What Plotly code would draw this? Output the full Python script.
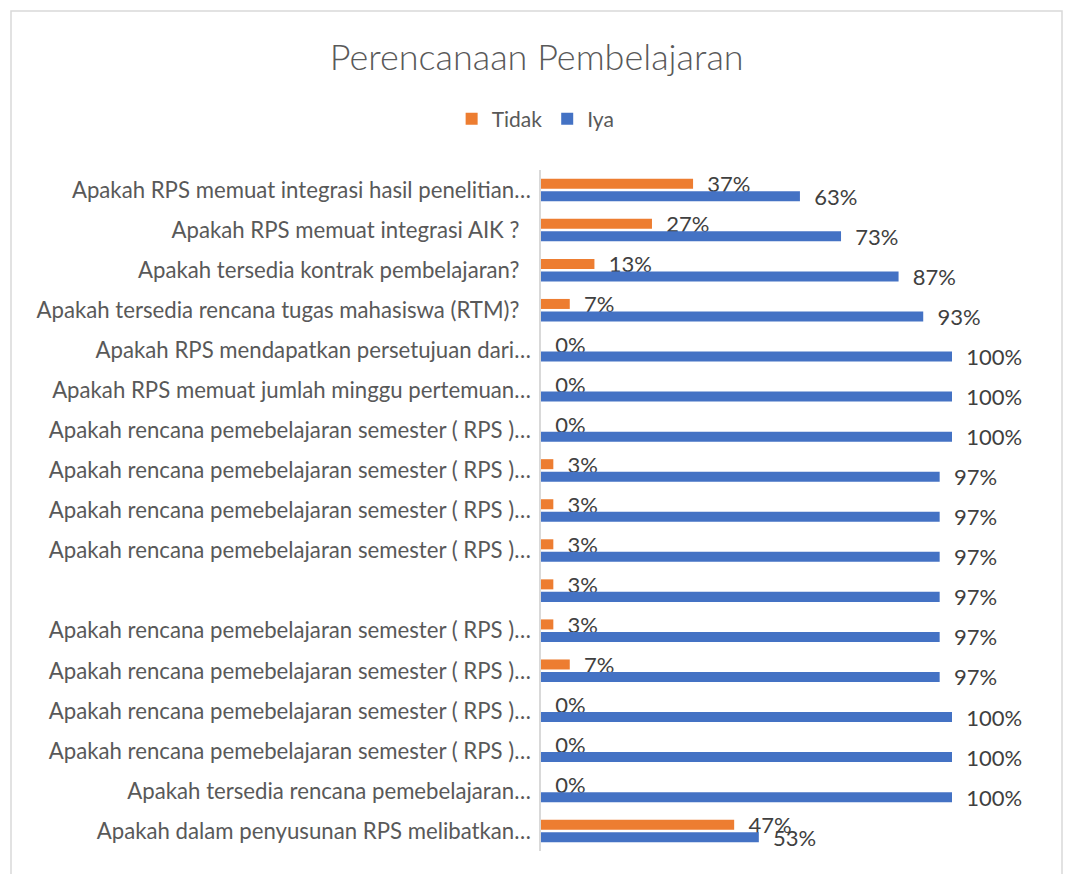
import plotly.graph_objects as go

# ---- data (top to bottom as shown) ----
categories = [
    "Apakah RPS memuat integrasi hasil penelitian…",
    "Apakah RPS memuat integrasi AIK ?\u00a0\u00a0",
    "Apakah tersedia kontrak pembelajaran?\u00a0\u00a0",
    "Apakah tersedia rencana tugas mahasiswa (RTM)?\u00a0\u00a0",
    "Apakah RPS mendapatkan persetujuan dari…",
    "Apakah RPS memuat jumlah minggu pertemuan…",
    "Apakah rencana pemebelajaran semester ( RPS )…",
    "Apakah rencana pemebelajaran semester ( RPS )…",
    "Apakah rencana pemebelajaran semester ( RPS )…",
    "Apakah rencana pemebelajaran semester ( RPS )…",
    "",
    "Apakah rencana pemebelajaran semester ( RPS )…",
    "Apakah rencana pemebelajaran semester ( RPS )…",
    "Apakah rencana pemebelajaran semester ( RPS )…",
    "Apakah rencana pemebelajaran semester ( RPS )…",
    "Apakah tersedia rencana pemebelajaran…",
    "Apakah dalam penyusunan RPS melibatkan…",
]
tidak = [37, 27, 13, 7, 0, 0, 0, 3, 3, 3, 3, 3, 7, 0, 0, 0, 47]
iya = [63, 73, 87, 93, 100, 100, 100, 97, 97, 97, 97, 97, 97, 100, 100, 100, 53]
positions = list(range(len(categories)))

FONT = "Lato"
ORANGE = "#ED7D31"
BLUE = "#4472C4"
LABEL_COLOR = "#595959"
VALUE_COLOR = "#404040"

W, H = 1067, 874
L, R, T, B = 541, 115, 170, 23

fig = go.Figure()
for name, vals, color in [("Tidak", tidak, ORANGE), ("Iya", iya, BLUE)]:
    fig.add_trace(go.Bar(
        name=name, y=positions, x=vals, orientation="h",
        marker=dict(color=color, line=dict(width=0)),
        text=[f"\u00a0\u00a0{v}%" for v in vals],
        textposition="outside", cliponaxis=False, constraintext="none",
        textfont=dict(family=FONT, size=22, color=VALUE_COLOR),
        hoverinfo="skip",
    ))

pw = W - L - R
ph = H - T - B
def px_x(p):
    return (p - L) / pw
def px_y(p):
    return (H - B - p) / ph

fig.update_layout(
    width=W, height=H,
    margin=dict(l=L, r=R, t=T, b=B, autoexpand=False),
    paper_bgcolor="white", plot_bgcolor="white",
    barmode="group", bargap=0.375, bargroupgap=0.2,
    title=dict(text="Perencanaan Pembelajaran", x=0.503, xref="container",
               y=1 - 57 / H, yref="container", xanchor="center", yanchor="middle",
               font=dict(family=FONT, size=36, color=LABEL_COLOR, weight=300)),
    legend=dict(orientation="h", x=0.502, xref="container", y=1 - 119 / H, yref="container",
                xanchor="center", yanchor="middle",
                font=dict(family=FONT, size=21, color=LABEL_COLOR),
                itemwidth=30, tracegroupgap=0),
    xaxis=dict(visible=False, range=[0, 100], fixedrange=True),
    yaxis=dict(tickmode="array", tickvals=positions, ticktext=categories,
               range=[len(categories) - 0.5, -0.5], showgrid=False, zeroline=False,
               showline=True, linecolor="#D9D9D9", linewidth=1.5, ticks="",
               ticklabelstandoff=4, fixedrange=True,
               tickfont=dict(family=FONT, size=22.2, color=LABEL_COLOR)),
    shapes=[dict(type="rect", xref="paper", yref="paper",
                 x0=px_x(11), x1=px_x(1062), y0=px_y(885), y1=px_y(11),
                 line=dict(color="#D9D9D9", width=1.5), layer="below")],
    showlegend=True,
)

fig.write_html("out.html", config={"displayModeBar": False},
               post_script="document.body.style.margin='0';")
